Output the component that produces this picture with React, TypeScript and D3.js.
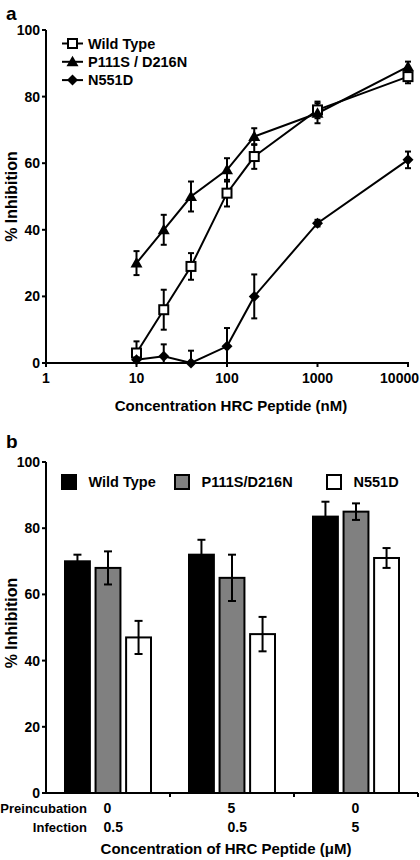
import React from "react";
import * as d3 from "d3";

// ---- Panel a data ----
const concentrations = [10, 20, 40, 100, 200, 1000, 10000];
const wtMean = [3, 16, 29, 51, 62, 76, 86];
const wtErr = [3.5, 6, 4, 4, 3.7, 2.5, 2];
const p111Mean = [30, 40, 50, 58, 68, 75, 89];
const p111Err = [3.6, 4.5, 4.5, 3.5, 2.5, 3, 1.5];
const n551Mean = [1, 2, 0, 5, 20, 42, 61];
const n551Err = [1, 3.6, 3.7, 5.5, 6.6, 1, 2.5];
const lineSeriesNames = ["Wild Type", "P111S / D216N", "N551D"];
const logTicks = [1, 10, 100, 1000, 10000];
const yTicks = [0, 20, 40, 60, 80, 100];

// ---- Panel b data ----
const groups = ["A", "B", "C"];
const preincubation = ["0", "5", "0"];
const infection = ["0.5", "0.5", "5"];
const barSeriesNames = ["Wild Type", "P111S/D216N", "N551D"];
const barWt = [70, 72, 83.5];
const barWtErr = [2, 4.5, 4.5];
const barP111 = [68, 65, 85];
const barP111Err = [5, 7, 2.5];
const barN551 = [47, 48, 71];
const barN551Err = [5, 5.2, 3];

const FONT = "'Liberation Sans', Arial, Helvetica, sans-serif";

function Marker({ type, x, y }: { type: string; x: number; y: number }) {
  if (type === "square") {
    return <rect x={x - 4.5} y={y - 4.5} width={9} height={9} fill="#fff" stroke="#000" strokeWidth={2} />;
  }
  if (type === "triangle") {
    return <path d={`M${x},${y - 6}L${x + 6},${y + 4.5}L${x - 6},${y + 4.5}Z`} fill="#000" />;
  }
  return <path d={`M${x},${y - 5.5}L${x + 5.5},${y}L${x},${y + 5.5}L${x - 5.5},${y}Z`} fill="#000" />;
}

function PanelA() {
  const x = d3.scaleLog().domain([1, 10000]).range([46, 408]);
  const y = d3.scaleLinear().domain([0, 100]).range([363, 30]);
  const series = [
    { name: lineSeriesNames[0], mean: wtMean, err: wtErr, marker: "square" },
    { name: lineSeriesNames[1], mean: p111Mean, err: p111Err, marker: "triangle" },
    { name: lineSeriesNames[2], mean: n551Mean, err: n551Err, marker: "diamond" },
  ];
  const line = d3
    .line<number>()
    .x((_, i) => x(concentrations[i]))
    .y((d) => y(d));
  return (
    <g fontFamily={FONT} fontWeight="bold">
      <text x={6} y={20} fontSize={19}>a</text>
      {/* axes */}
      <line x1={46} x2={46} y1={y(100)} y2={y(0)} stroke="#000" strokeWidth={2} />
      <line x1={45} x2={x(10000) + 1} y1={y(0)} y2={y(0)} stroke="#000" strokeWidth={2} />
      {yTicks.map((t) => (
        <g key={t}>
          <line x1={42} x2={46} y1={y(t)} y2={y(t)} stroke="#000" strokeWidth={2} />
          <text x={40} y={y(t) + 5} fontSize={14} textAnchor="end">{t}</text>
        </g>
      ))}
      {logTicks.map((t) => {
        const tx = x(t);
        const nearEdge = tx > 400;
        return (
          <g key={t}>
            <line x1={tx} x2={tx} y1={y(0)} y2={y(0) + 4} stroke="#000" strokeWidth={2} />
            <text x={nearEdge ? 419 : tx} y={383} fontSize={14} textAnchor={nearEdge ? "end" : "middle"}>{t}</text>
          </g>
        );
      })}
      <text x={231} y={411} fontSize={15} textAnchor="middle">Concentration HRC Peptide (nM)</text>
      <text transform="translate(16.5,196.5) rotate(-90)" fontSize={16} textAnchor="middle">% Inhibition</text>
      {/* lines */}
      {series.map((s) => (
        <path key={s.name} d={line(s.mean) || ""} fill="none" stroke="#000" strokeWidth={2} />
      ))}
      {/* error bars */}
      {series.map((s) =>
        s.mean.map((m, i) => {
          const cx = x(concentrations[i]);
          const top = y(m + s.err[i]);
          const bot = y(Math.max(0, m - s.err[i]));
          return (
            <g key={s.name + i} stroke="#000" strokeWidth={2}>
              <line x1={cx} x2={cx} y1={top} y2={bot} />
              <line x1={cx - 3} x2={cx + 3} y1={top} y2={top} />
              <line x1={cx - 3} x2={cx + 3} y1={bot} y2={bot} />
            </g>
          );
        })
      )}
      {/* markers */}
      {series.map((s) =>
        s.mean.map((m, i) => <Marker key={s.name + "m" + i} type={s.marker} x={x(concentrations[i])} y={y(m)} />)
      )}
      {/* legend */}
      {series.map((s, i) => {
        const ly = 43.5 + i * 18.3;
        return (
          <g key={"lg" + s.name}>
            <line x1={62} x2={83} y1={ly} y2={ly} stroke="#000" strokeWidth={2} />
            <Marker type={s.marker} x={72.5} y={ly} />
            <text x={88} y={ly + 5} fontSize={14.5}>{s.name}</text>
          </g>
        );
      })}
    </g>
  );
}

function PanelB() {
  const x0 = d3.scaleBand<string>().domain(groups).range([46, 418]).padding(0);
  const x1 = d3.scaleBand<string>().domain(barSeriesNames).range([18, 106]).paddingInner(0.12);
  const y = d3.scaleLinear().domain([0, 100]).range([793, 462]);
  const fills = ["#000", "#808080", "#fff"];
  const data = [
    { name: barSeriesNames[0], vals: barWt, errs: barWtErr },
    { name: barSeriesNames[1], vals: barP111, errs: barP111Err },
    { name: barSeriesNames[2], vals: barN551, errs: barN551Err },
  ];
  const legendX = [61, 174, 326];
  return (
    <g fontFamily={FONT} fontWeight="bold">
      <text x={6} y={448} fontSize={19}>b</text>
      {/* bars */}
      {groups.map((g, gi) =>
        data.map((s, si) => {
          const bx = (x0(g) as number) + (x1(s.name) as number);
          const bw = x1.bandwidth();
          const top = y(s.vals[gi]);
          return (
            <rect
              key={g + s.name}
              x={bx + 1}
              y={top}
              width={bw - 2}
              height={y(0) - top}
              fill={fills[si]}
              stroke="#000"
              strokeWidth={2}
            />
          );
        })
      )}
      {/* error bars */}
      {groups.map((g, gi) =>
        data.map((s) => {
          const cx = (x0(g) as number) + (x1(s.name) as number) + x1.bandwidth() / 2;
          const top = y(s.vals[gi] + s.errs[gi]);
          const bot = y(s.vals[gi] - s.errs[gi]);
          return (
            <g key={"e" + g + s.name} stroke="#000" strokeWidth={2}>
              <line x1={cx} x2={cx} y1={top} y2={bot} />
              <line x1={cx - 4} x2={cx + 4} y1={top} y2={top} />
              <line x1={cx - 4} x2={cx + 4} y1={bot} y2={bot} />
            </g>
          );
        })
      )}
      {/* axes */}
      <line x1={46} x2={46} y1={y(100)} y2={y(0) + 1} stroke="#000" strokeWidth={2} />
      <line x1={45} x2={418} y1={y(0)} y2={y(0)} stroke="#000" strokeWidth={2} />
      {yTicks.map((t) => (
        <g key={t}>
          <line x1={42} x2={46} y1={y(t)} y2={y(t)} stroke="#000" strokeWidth={2} />
          <text x={40} y={y(t) + 5} fontSize={14} textAnchor="end">{t}</text>
        </g>
      ))}
      {groups.map((g) => {
        const gx = (x0(g) as number) + x0.bandwidth();
        return <line key={"t" + g} x1={gx} x2={gx} y1={y(0)} y2={y(0) + 4} stroke="#000" strokeWidth={2} />;
      })}
      <text x={87} y={813} fontSize={13} textAnchor="end">Preincubation</text>
      <text x={87} y={832} fontSize={13} textAnchor="end">Infection</text>
      {groups.map((g, gi) => {
        const cx = (x0(g) as number) + x0.bandwidth() / 2;
        return (
          <g key={"l" + g}>
            <text x={cx - 4.5} y={813} fontSize={14}>{preincubation[gi]}</text>
            <text x={cx - 4.5} y={832} fontSize={14}>{infection[gi]}</text>
          </g>
        );
      })}
      <text x={226} y={854} fontSize={15} textAnchor="middle">Concentration of HRC Peptide (μM)</text>
      <text transform="translate(16.5,623) rotate(-90)" fontSize={16} textAnchor="middle">% Inhibition</text>
      {/* legend */}
      {data.map((s, i) => (
        <g key={"lg" + s.name}>
          <rect x={legendX[i] + 1} y={475} width={14} height={14} fill={fills[i]} stroke="#000" strokeWidth={2} />
          <text x={legendX[i] + 27.5} y={487} fontSize={14.5}>{s.name}</text>
        </g>
      ))}
    </g>
  );
}

export default function App() {
  return (
    <svg
      width={420}
      height={860}
      viewBox="0 0 420 860"
      style={{ position: "absolute", left: 0, top: 0, background: "#fff", display: "block" }}
    >
      <rect width={420} height={860} fill="#fff" />
      <PanelA />
      <PanelB />
    </svg>
  );
}
